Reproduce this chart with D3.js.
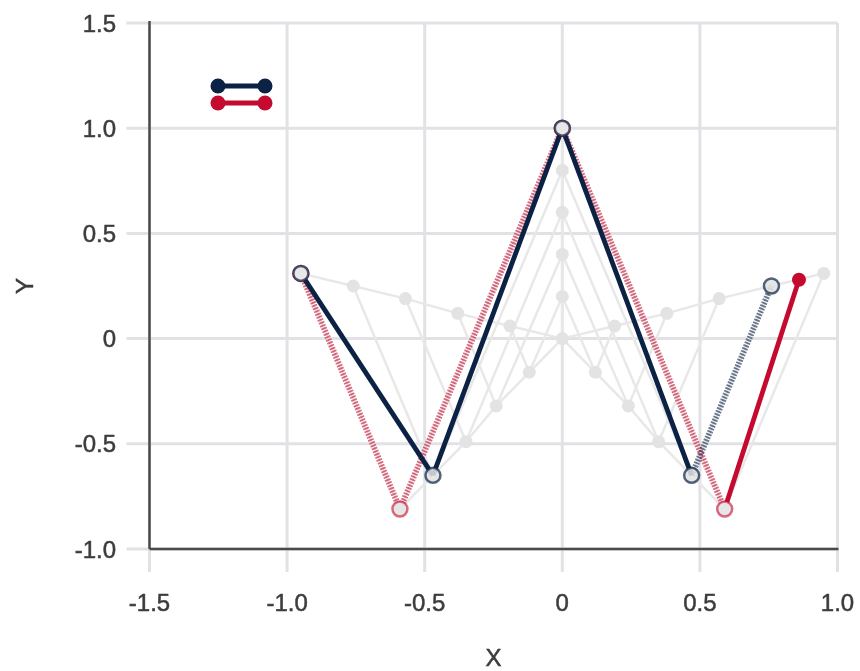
<!DOCTYPE html>
<html>
<head>
<meta charset="utf-8">
<script src="https://cdn.jsdelivr.net/npm/d3@7"></script>
<style>
  html, body { margin: 0; padding: 0; background: #fff; }
  svg { display: block; filter: blur(0.6px); }
  text { font-family: "Liberation Sans", Arial, sans-serif; }
</style>
</head>
<body>
<svg id="chart" width="860" height="671"></svg>
<script>
// ---- data ----
const xTicks = [-1.5, -1.0, -0.5, 0, 0.5, 1.0];
const yTicks = [-1.0, -0.5, 0, 0.5, 1.0, 1.5];
const xTickLabels = ["-1.5", "-1.0", "-0.5", "0", "0.5", "1.0"];
const yTickLabels = ["-1.0", "-0.5", "0", "0.5", "1.0", "1.5"];

// ghost frames (light gray), each a 5-point polyline
const origin = [0, 0];
const frame1 = [[-0.19, 0.06], [-0.12, -0.16], [0, 0.2], [0.12, -0.16], [0.19, 0.06]];
const frame2 = [[-0.38, 0.12], [-0.24, -0.32], [0, 0.4], [0.24, -0.32], [0.38, 0.12]];
const frame3 = [[-0.57, 0.19], [-0.35, -0.49], [0, 0.6], [0.35, -0.49], [0.57, 0.19]];
const frame4 = [[-0.76, 0.25], [-0.47, -0.65], [0, 0.8], [0.47, -0.65], [0.76, 0.25]];
const frame5 = [[-0.95, 0.31], [-0.59, -0.81], [0, 1.0], [0.59, -0.81], [0.95, 0.31]];
const ghostFrames = [frame1, frame2, frame3, frame4, frame5];

// highlighted series
const navyPts = [[-0.95, 0.31], [-0.47, -0.65], [0, 1.0], [0.47, -0.65], [0.76, 0.25]];
const navyHatched = [false, false, false, true];
const redPts = [[-0.95, 0.31], [-0.59, -0.81], [0, 1.0], [0.59, -0.81], [0.86, 0.28]];
const redHatched = [true, true, true, false];

const NAVY = "#0b2245";
const RED = "#c40a2e";

// ---- layout ----
const svg = d3.select("#chart");
const L = 149.5, R = 837.5, T = 23, B = 549;
const x = d3.scaleLinear().domain([-1.5, 1.0]).range([L, R]);
const y = d3.scaleLinear().domain([-1.0, 1.5]).range([B, T]);

// grid
const grid = svg.append("g");
grid.selectAll("line.vx").data(xTicks).join("line")
  .attr("x1", d => x(d)).attr("x2", d => x(d))
  .attr("y1", T).attr("y2", B + 23)
  .attr("stroke", "#e2e2e6").attr("stroke-width", 3);
grid.selectAll("line.hy").data(yTicks).join("line")
  .attr("y1", d => y(d)).attr("y2", d => y(d))
  .attr("x1", L - 23).attr("x2", R)
  .attr("stroke", "#e2e2e6").attr("stroke-width", 3);

// axes lines
svg.append("line").attr("x1", L).attr("x2", L).attr("y1", T - 2).attr("y2", B)
  .attr("stroke", "#4a4a4a").attr("stroke-width", 2.5);
svg.append("line").attr("x1", L).attr("x2", R + 1).attr("y1", B).attr("y2", B)
  .attr("stroke", "#4a4a4a").attr("stroke-width", 2.5);

// tick labels
const txt = sel => sel.attr("font-size", 24).attr("fill", "#3c3c3c")
  .attr("stroke", "#3c3c3c").attr("stroke-width", 0.5);
svg.selectAll("text.xt").data(xTicks).join("text")
  .attr("x", d => x(d)).attr("y", 611)
  .attr("text-anchor", "middle").call(txt)
  .text((d, i) => xTickLabels[i]);
svg.selectAll("text.yt").data(yTicks).join("text")
  .attr("x", 116).attr("y", d => y(d) + 8.5)
  .attr("text-anchor", "end").call(txt)
  .text((d, i) => yTickLabels[i]);

// axis titles
svg.append("text").attr("x", (L + R) / 2).attr("y", 666)
  .attr("text-anchor", "middle").call(txt).text("X");
svg.append("text").attr("transform", `translate(33,${(T + B) / 2}) rotate(-90)`)
  .attr("text-anchor", "middle").call(txt).text("Y");

const line = d3.line().x(d => x(d[0])).y(d => y(d[1]));

// ghost: trails from origin for each vertex
const ghost = svg.append("g");
const trails = d3.range(5).map(i => [origin].concat(ghostFrames.map(f => f[i])));
ghost.selectAll("path.trail").data(trails).join("path")
  .attr("d", line).attr("fill", "none")
  .attr("stroke", "#e8e8e8").attr("stroke-width", 2.5);
ghost.selectAll("path.frame").data(ghostFrames).join("path")
  .attr("d", line).attr("fill", "none")
  .attr("stroke", "#e8e8e8").attr("stroke-width", 2.5);
const ghostPts = [origin].concat(...ghostFrames);
ghost.selectAll("circle").data(ghostPts).join("circle")
  .attr("cx", d => x(d[0])).attr("cy", d => y(d[1])).attr("r", 6.5)
  .attr("fill", "#e3e3e3");

// segments helper
function segs(pts, hatched) {
  return d3.range(pts.length - 1).map(i => ({ a: pts[i], b: pts[i + 1], h: hatched[i] }));
}
function drawSegs(g, data, color, hatchOpacity) {
  g.selectAll("line").data(data).join("line")
    .attr("x1", d => x(d.a[0])).attr("y1", d => y(d.a[1]))
    .attr("x2", d => x(d.b[0])).attr("y2", d => y(d.b[1]))
    .attr("stroke", color)
    .attr("stroke-width", d => d.h ? 6 : 4.8)
    .attr("stroke-dasharray", d => d.h ? "1.8 1.3" : null)
    .attr("stroke-opacity", d => d.h ? hatchOpacity : 1);
}
const redSegs = segs(redPts, redHatched);
const navySegs = segs(navyPts, navyHatched);
drawSegs(svg.append("g"), redSegs.filter(d => d.h), RED, 0.6);
drawSegs(svg.append("g"), navySegs, NAVY, 0.6);
drawSegs(svg.append("g"), redSegs.filter(d => !d.h), RED, 1);

// markers
svg.append("g").selectAll("circle").data(redPts.slice(0, 4)).join("circle")
  .attr("cx", d => x(d[0])).attr("cy", d => y(d[1])).attr("r", 7.5)
  .attr("fill", "#e6e6e6").attr("stroke", RED).attr("stroke-opacity", 0.6).attr("stroke-width", 2.5);
svg.append("g").selectAll("circle").data(navyPts).join("circle")
  .attr("cx", d => x(d[0])).attr("cy", d => y(d[1])).attr("r", 7.5)
  .attr("fill", "#e6e6e6").attr("fill-opacity", 0.85)
  .attr("stroke", NAVY).attr("stroke-opacity", 0.7).attr("stroke-width", 2.5);
svg.append("circle").datum(redPts[4])
  .attr("cx", d => x(d[0])).attr("cy", d => y(d[1])).attr("r", 7).attr("fill", RED);

// legend
const legend = svg.append("g");
const legendItems = [{ c: NAVY, y: 86 }, { c: RED, y: 103 }];
legendItems.forEach(it => {
  legend.append("line").attr("x1", 218).attr("x2", 265).attr("y1", it.y).attr("y2", it.y)
    .attr("stroke", it.c).attr("stroke-width", 5);
  legend.selectAll(null).data([218, 265]).join("circle")
    .attr("cx", d => d).attr("cy", it.y).attr("r", 7.5).attr("fill", it.c);
});
</script>
</body>
</html>
